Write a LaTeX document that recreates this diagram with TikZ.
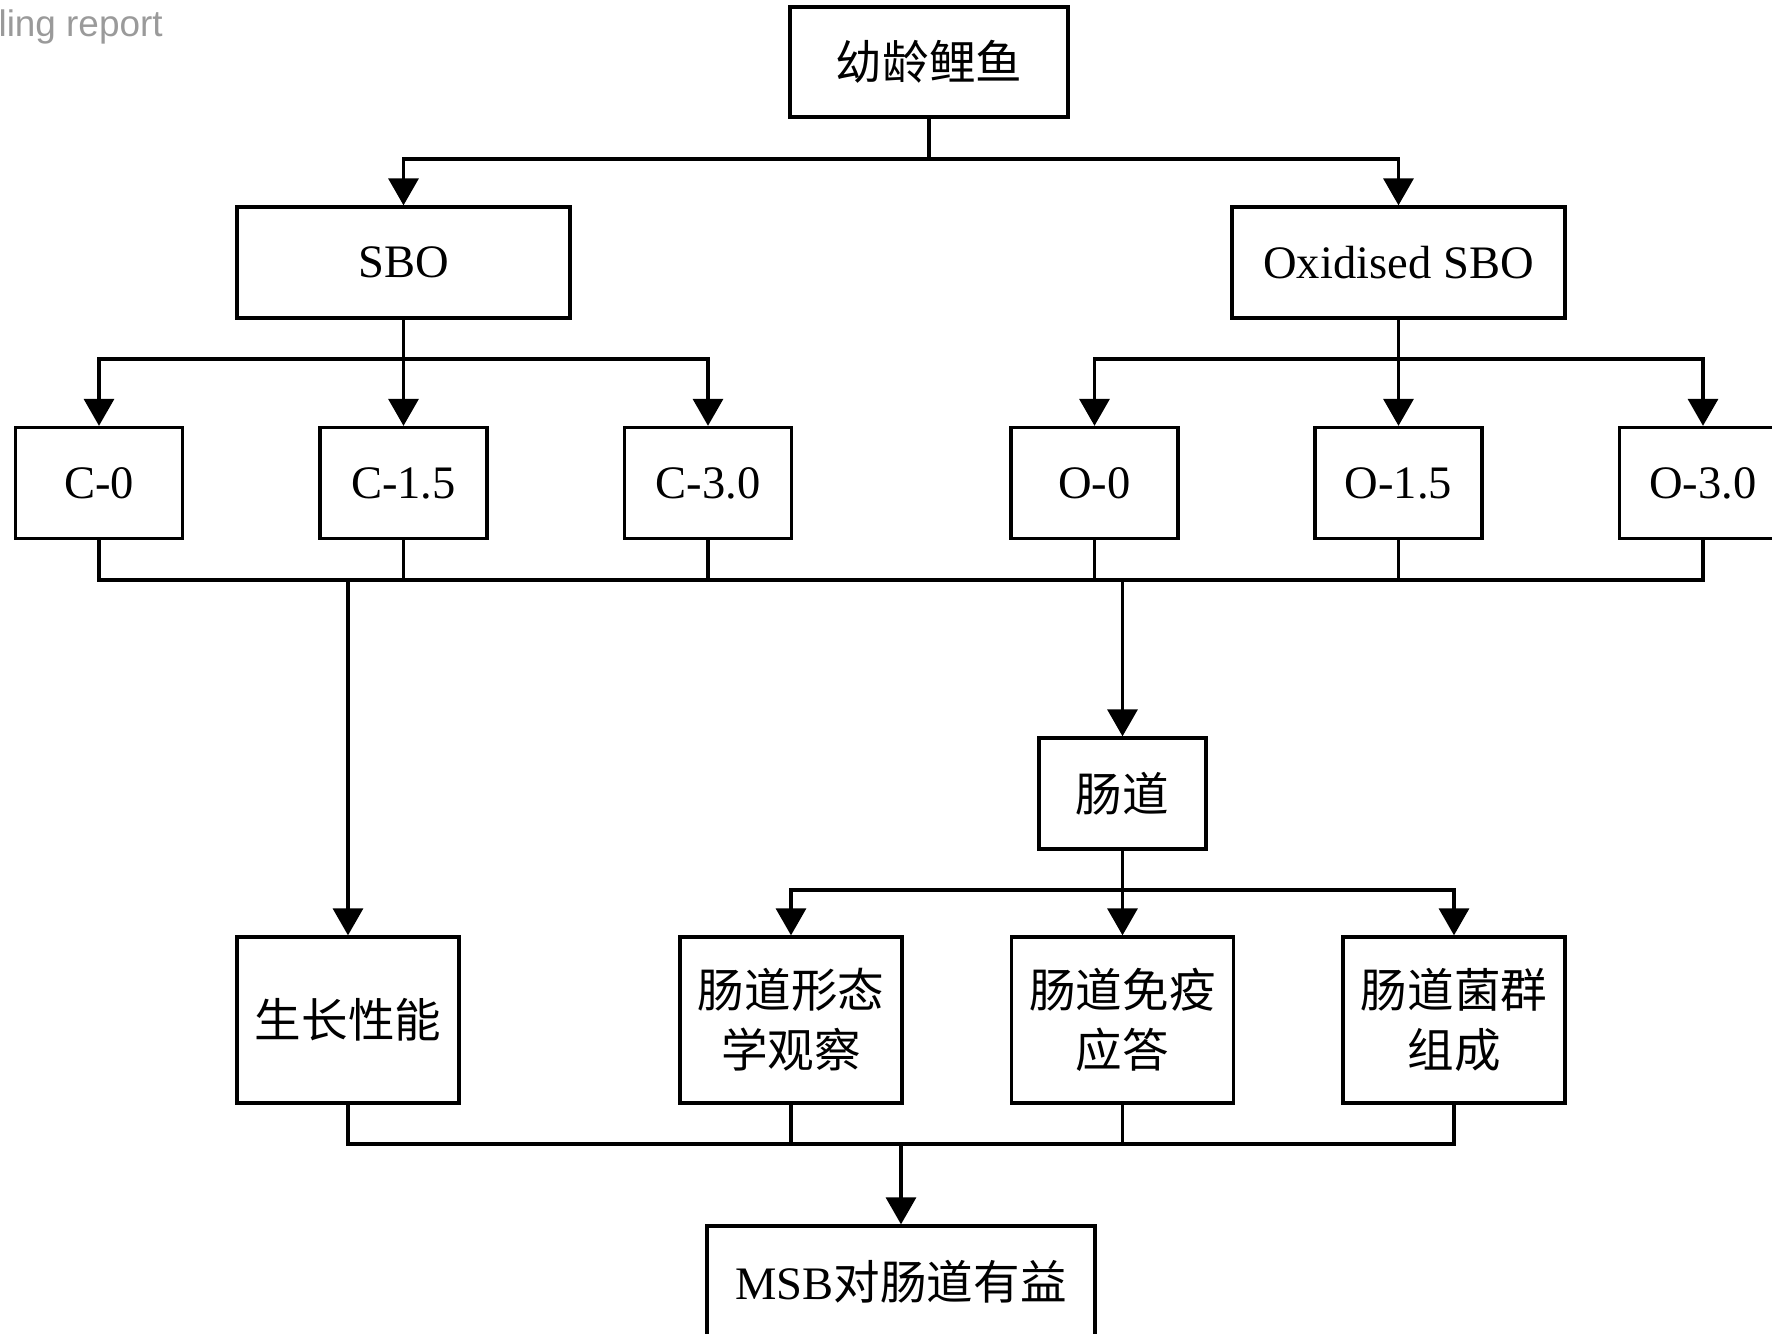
\documentclass[tikz,border=0pt]{standalone}
\usepackage{fontspec}
\setmainfont{Liberation Serif}
\newfontfamily\cjk{Noto Sans CJK SC}
\newfontfamily\notefont{Liberation Sans}
\usetikzlibrary{arrows.meta}
\definecolor{notegray}{HTML}{9A9A9A}

\begin{document}
\begin{tikzpicture}[x=0.02cm, y=-0.02cm,
    box/.style={draw, rectangle, line width=1.9pt, inner sep=0pt, align=center,
        font=\fontsize{26.5}{34}\selectfont},
    wide/.style={box, minimum width=6.66cm, minimum height=2.22cm},
    small/.style={box, minimum width=3.34cm, minimum height=2.22cm},
    tall/.style={box, minimum width=4.44cm, minimum height=3.32cm},
    link/.style={line width=1.9pt},
    arr/.style={link, -{Triangle[length=0.54cm, width=0.6cm]}}]
    \useasboundingbox (0,0) rectangle (1772,1334);
    \clip (0,0) rectangle (1772,1334);

    \node[anchor=base east, inner sep=0pt, text=notegray, font=\notefont\fontsize{21}{24}\selectfont] (note) at (163,37) {ling report};

    % groups
    \node[box, minimum width=5.56cm, minimum height=2.2cm] (fish) at (929,62) {\cjk 幼龄鲤鱼};
    \node[wide] (SBO) at (403.5,262.5) {SBO};
    \node[wide] (OSBO) at (1398.5,262.5) {Oxidised SBO};

    \node[small] (C0) at (99,483) {C-0};
    \node[small] (C15) at (403.5,483) {C-1.5};
    \node[small] (C30) at (708,483) {C-3.0};
    \node[small] (O0) at (1094.5,483) {O-0};
    \node[small] (O15) at (1398.5,483) {O-1.5};
    \node[small] (O30) at (1703,483) {O-3.0};

    % indices
    \node[small] (gut) at (1122.5,793.5) {\cjk 肠道};
    \node[tall] (growth) at (348,1020) {\cjk 生长性能};
    \node[tall] (morph) at (791,1020) {\cjk 肠道形态\\\cjk 学观察};
    \node[tall] (immune) at (1122.5,1020) {\cjk 肠道免疫\\\cjk 应答};
    \node[tall] (flora) at (1454,1020) {\cjk 肠道菌群\\\cjk 组成};
    \node[box, minimum width=7.76cm, minimum height=2.22cm] (MSB) at (901,1281.5) {MSB\cjk 对肠道有益};

    \coordinate (bus1) at (0,159);
    \coordinate (bus2) at (0,359);
    \coordinate (bus3) at (0,580);
    \coordinate (bus4) at (0,890);
    \coordinate (bus5) at (0,1144);

    \draw[arr] (fish.south) -- (fish.south |- bus1) -| (SBO.north);
    \draw[arr] (fish.south |- bus1) -| (OSBO.north);

    \draw[arr] (SBO.south) -- (C15.north);
    \draw[arr] (SBO.south |- bus2) -| (C0.north);
    \draw[arr] (SBO.south |- bus2) -| (C30.north);
    \draw[arr] (OSBO.south) -- (O15.north);
    \draw[arr] (OSBO.south |- bus2) -| (O0.north);
    \draw[arr] (OSBO.south |- bus2) -| (O30.north);

    \draw[link] (C0.south) |- (O30.south |- bus3) -- (O30.south);
    \foreach \n in {C15,C30,O0,O15}
        \draw[link] (\n.south) -- (\n.south |- bus3);
    \draw[arr] (growth.north |- bus3) -- (growth.north);
    \draw[arr] (gut.north |- bus3) -- (gut.north);

    \draw[arr] (gut.south) -- (immune.north);
    \draw[arr] (gut.south |- bus4) -| (morph.north);
    \draw[arr] (gut.south |- bus4) -| (flora.north);

    \draw[link] (growth.south) |- (flora.south |- bus5) -- (flora.south);
    \foreach \n in {morph,immune}
        \draw[link] (\n.south) -- (\n.south |- bus5);
    \draw[arr] (MSB.north |- bus5) -- (MSB.north);
\end{tikzpicture}
\end{document}
